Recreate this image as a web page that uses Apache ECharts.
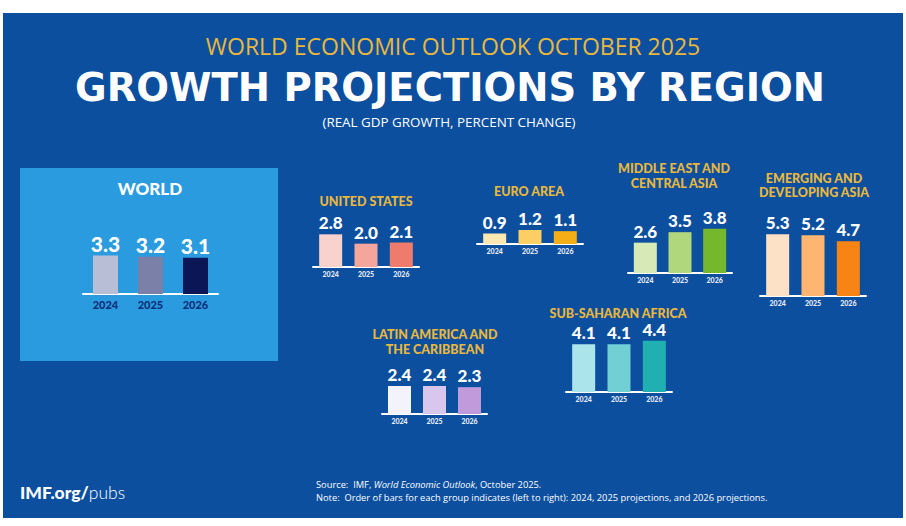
<!DOCTYPE html>
<html>
<head>
<meta charset="utf-8">
<script src="https://cdn.jsdelivr.net/npm/echarts@6/dist/echarts.min.js"></script>
<style>
  html, body { margin: 0; padding: 0; background: #ffffff; }
  #chart { width: 906px; height: 526px; }
</style>
</head>
<body>
<div id="chart"></div>
<script>
// years shown under every group
const years = ['2024', '2025', '2026'];

// real GDP growth, percent change
const world = [3.3, 3.2, 3.1];
const unitedStates = [2.8, 2.0, 2.1];
const euroArea = [0.9, 1.2, 1.1];
const middleEastCentralAsia = [2.6, 3.5, 3.8];
const emergingDevelopingAsia = [5.3, 5.2, 4.7];
const latinAmericaCaribbean = [2.4, 2.4, 2.3];
const subSaharanAfrica = [4.1, 4.1, 4.4];

// where each small chart sits, and its colours
const panels = [
    { name: 'WORLD', data: world, x0: 83, x1: 218, base: 294, bw: 25,
      colors: ['#b9bed7', '#7a80a8', '#0b1657'], big: true },
    { name: 'UNITED STATES', data: unitedStates, x0: 313, x1: 419, base: 267, bw: 23,
      colors: ['#fad2cd', '#f5a69c', '#ef7b6d'], tx: 366, ty: 201 },
    { name: 'EURO AREA', data: euroArea, x0: 477, x1: 583, base: 244, bw: 23,
      colors: ['#fde8b2', '#fcce63', '#f6ae16'], tx: 529, ty: 191 },
    { name: 'MIDDLE EAST AND\nCENTRAL ASIA', data: middleEastCentralAsia, x0: 628, x1: 732, base: 273, bw: 23,
      colors: ['#d7e9b7', '#b1d77d', '#75b82e'], tx: 674, ty: 176 },
    { name: 'EMERGING AND\nDEVELOPING ASIA', data: emergingDevelopingAsia, x0: 760, x1: 866, base: 296, bw: 23,
      colors: ['#fde1c6', '#fdb571', '#f98416'], tx: 814, ty: 185.5 },
    { name: 'LATIN AMERICA AND\nTHE CARIBBEAN', data: latinAmericaCaribbean, x0: 382, x1: 487, base: 414, bw: 23,
      colors: ['#f4f2fb', '#d9c6ec', '#c09adb'], tx: 435, ty: 342 },
    { name: 'SUB-SAHARAN AFRICA', data: subSaharanAfrica, x0: 566, x1: 672, base: 392, bw: 23,
      colors: ['#abe4ea', '#70d0d4', '#20b0b1'], tx: 618, ty: 313 }
];

const chart = echarts.init(document.getElementById('chart'), null, { renderer: 'svg' });

const gold = '#e9b83c';
const plotH = 70;
const grid = [];
const xAxis = [];
const yAxis = [];
const series = [];

panels.forEach((p, i) => {
    grid.push({ left: p.x0, top: p.base - plotH, width: p.x1 - p.x0, height: plotH });
    xAxis.push({
        gridIndex: i,
        type: 'category',
        data: years,
        axisLine: { lineStyle: { color: '#ffffff', width: 2 } },
        axisTick: { show: false },
        axisLabel: {
            color: p.big ? '#0d2f7a' : '#e8edf7',
            fontFamily: 'Lato',
            fontWeight: 900,
            fontSize: p.big ? 11 : 7,
            margin: p.big ? 5 : 3
        }
    });
    yAxis.push({ gridIndex: i, type: 'value', min: 0, max: 6, show: false });
    series.push({
        type: 'bar',
        xAxisIndex: i,
        yAxisIndex: i,
        barWidth: p.bw,
        data: p.data.map((v, j) => ({ value: v, itemStyle: { color: p.colors[j] } })),
        label: {
            show: true,
            position: 'top',
            distance: p.big ? 2 : 3,
            color: '#ffffff',
            fontFamily: 'Lato',
            fontWeight: 900,
            fontSize: p.big ? 21 : 17,
            formatter: (d) => d.value.toFixed(1)
        },
        silent: true
    });
});

const graphic = [
    { type: 'rect', z: -10, shape: { x: 3, y: 13, width: 900, height: 505 }, style: { fill: '#0c4f9f' } },
    { type: 'rect', z: -9, shape: { x: 20, y: 168, width: 258, height: 193 }, style: { fill: '#2b9be0' } },
    { type: 'text', x: 453, y: 46, style: { text: 'WORLD ECONOMIC OUTLOOK OCTOBER 2025', fill: gold,
        font: '400 23px "Open Sans"', textAlign: 'center', textVerticalAlign: 'middle' } },
    { type: 'text', x: 450, y: 87, style: { text: 'GROWTH PROJECTIONS BY REGION', fill: '#ffffff',
        font: 'bold 38.5px "DejaVu Sans"', textAlign: 'center', textVerticalAlign: 'middle' } },
    { type: 'text', x: 449, y: 122, style: { text: '(REAL GDP GROWTH, PERCENT CHANGE)', fill: '#ffffff',
        font: '400 13.4px "Open Sans"', textAlign: 'center', textVerticalAlign: 'middle' } },
    { type: 'text', x: 150, y: 188, style: { text: 'WORLD', fill: '#ffffff',
        font: '900 17px Lato', textAlign: 'center', textVerticalAlign: 'middle' } },
    { type: 'text', x: 20, y: 492, style: { text: '{b|IMF.org/}{l|pubs}', fill: '#ffffff',
        textVerticalAlign: 'middle', rich: {
            b: { fontFamily: 'Lato', fontWeight: 900, fontSize: 17.5, fill: '#ffffff' },
            l: { fontFamily: 'Lato', fontWeight: 300, fontSize: 17.5, fill: '#ffffff' }
        } } },
    { type: 'text', x: 316, y: 484, style: { text: '{n|Source:  IMF, }{i|World Economic Outlook}{n|, October 2025.}',
        textVerticalAlign: 'middle', rich: {
            n: { fontFamily: 'Open Sans', fontSize: 9.3, fill: '#ffffff' },
            i: { fontFamily: 'Open Sans', fontStyle: 'italic', fontSize: 9.3, fill: '#ffffff' }
        } } },
    { type: 'text', x: 316, y: 497, style: { text: 'Note:  Order of bars for each group indicates (left to right): 2024, 2025 projections, and 2026 projections.',
        fill: '#ffffff', font: '400 9.3px "Open Sans"', textVerticalAlign: 'middle' } }
];

panels.forEach((p) => {
    if (p.big) return;
    graphic.push({ type: 'text', x: p.tx, y: p.ty, style: { text: p.name, fill: gold,
        font: '900 12.5px Lato', lineHeight: 14.5, textAlign: 'center', textVerticalAlign: 'middle' } });
});

let option = {
    backgroundColor: '#ffffff',
    animation: false,
    grid: grid,
    xAxis: xAxis,
    yAxis: yAxis,
    series: series,
    graphic: graphic
};
chart.setOption(option);
window.addEventListener('resize', () => {
    chart.resize();
});
</script>
</body>
</html>
